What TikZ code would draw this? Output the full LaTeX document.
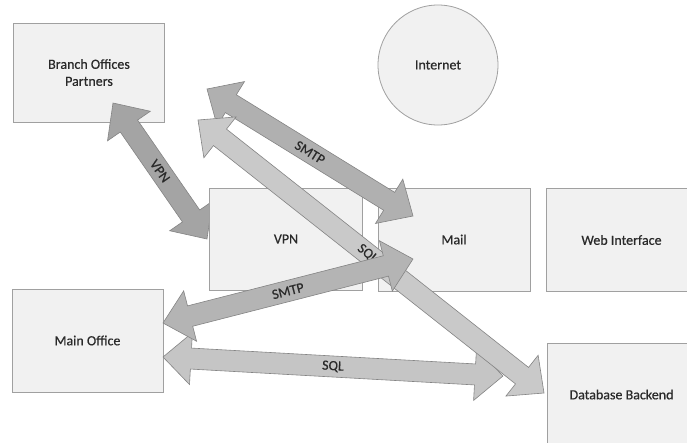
\documentclass[tikz,border=0pt]{standalone}
\usepackage{fontspec}
\setmainfont{Carlito}[UprightFeatures={FakeBold=0.5}]
\usetikzlibrary{calc}

\definecolor{boxfill}{HTML}{F1F1F1}
\definecolor{boxline}{HTML}{A0A0A0}
\definecolor{ink}{HTML}{2A2A2A}
\definecolor{arrowline}{HTML}{848484}

% Double-headed block arrow between two named points.
% #1 style, #2 first tip, #3 second tip
\newcommand\blockarrow[3]{%
  \coordinate (#2#3h1) at ($(#2)!28pt!(#3)$);
  \coordinate (#2#3h2) at ($(#3)!28pt!(#2)$);
  \filldraw[#1] (#2) -- ($(#2#3h1)!26pt!-90:(#2)$) -- ($(#2#3h1)!10.5pt!-90:(#2)$)
    -- ($(#2#3h2)!10.5pt!90:(#3)$) -- ($(#2#3h2)!26pt!90:(#3)$) -- (#3)
    -- ($(#2#3h2)!26pt!-90:(#3)$) -- ($(#2#3h2)!10.5pt!-90:(#3)$)
    -- ($(#2#3h1)!10.5pt!90:(#2)$) -- ($(#2#3h1)!26pt!90:(#2)$) -- cycle;
}

\tikzset{
  frame/.style={draw=boxline, fill=boxfill, line width=0.8pt},
  box/.style={frame, text=ink, align=center, inner sep=0pt,
    font=\fontsize{14}{17}\selectfont},
  boxtext/.style={text=ink, align=center, inner sep=0pt,
    font=\fontsize{14}{17}\selectfont},
  arrowbody/.style={draw=arrowline, line width=0.6pt, line join=miter},
  lbl/.style={text=ink, inner sep=0pt, font=\fontsize{14}{17}\selectfont},
}

\begin{document}
\begin{tikzpicture}[x=1pt, y=-1pt]
  \path[use as bounding box] (0,0) rectangle (687,442);
  \clip (0,0) rectangle (687,442);
  \fill[white] (0,0) rectangle (687,442);

  % sites and services
  \node[box, minimum width=151pt, minimum height=99pt] (branch) at (89,72.5) {Branch Offices\\Partners};
  \node[box, circle, minimum size=120pt] (internet) at (438,65) {Internet};
  \node[box, minimum width=151pt, minimum height=103pt] (main) at (87.5,340.5) {Main Office};
  % the two right-hand boxes run past the right margin
  \path[frame] (546,188.5) rectangle (720,291.5);
  \node[boxtext] (web) at (621.5,240) {Web Interface};
  \path[frame] (547,343) rectangle (720,460);
  \node[boxtext] (db) at (621.5,394.5) {Database Backend};
  \node[box, minimum width=152pt, minimum height=103pt] (mail) at (454,239.5) {Mail};

  % arrow end points
  \coordinate (vpnA) at (113,103);
  \coordinate (vpnB) at (207,239);
  \coordinate (smtpA) at (207,89);
  \coordinate (smtpB) at (413,216);
  \coordinate (sqlA) at (198,120);
  \coordinate (sqlB) at (544,393);
  \coordinate (smtpC) at (163,323);
  \coordinate (smtpD) at (413,259);
  \coordinate (sqlC) at (163,357);
  \coordinate (sqlD) at (503,376);

  % branch offices <-> VPN gateway
  \blockarrow{arrowbody, fill={rgb,255:red,164;green,164;blue,164}}{vpnA}{vpnB}
  \node[lbl, rotate=-55] (vpnlbl) at ($(vpnA)!0.5!(vpnB)$) {VPN};

  \node[box, minimum width=153pt, minimum height=102pt] (vpn) at (286,239) {VPN};

  % branch offices <-> mail
  \blockarrow{arrowbody, fill={rgb,255:red,176;green,176;blue,176}}{smtpA}{smtpB}
  \node[lbl, rotate=-31.7] (smtplbl1) at ($(smtpA)!0.5!(smtpB)$) {SMTP};

  % main office <-> database
  \blockarrow{arrowbody, fill={rgb,255:red,197;green,197;blue,197}}{sqlC}{sqlD}
  \node[lbl, rotate=-3.2] (sqllbl2) at ($(sqlC)!0.5!(sqlD)$) {SQL};

  % branch offices <-> database
  \blockarrow{arrowbody, fill={rgb,255:red,201;green,201;blue,201}}{sqlA}{sqlB}
  \node[lbl, rotate=-38.3] (sqllbl1) at ($(sqlA)!0.49!(sqlB)$) {SQL};

  % main office <-> mail
  \blockarrow{arrowbody, fill={rgb,255:red,180;green,180;blue,180}}{smtpC}{smtpD}
  \node[lbl, rotate=14.4] (smtplbl2) at ($(smtpC)!0.5!(smtpD)$) {SMTP};
\end{tikzpicture}
\end{document}
